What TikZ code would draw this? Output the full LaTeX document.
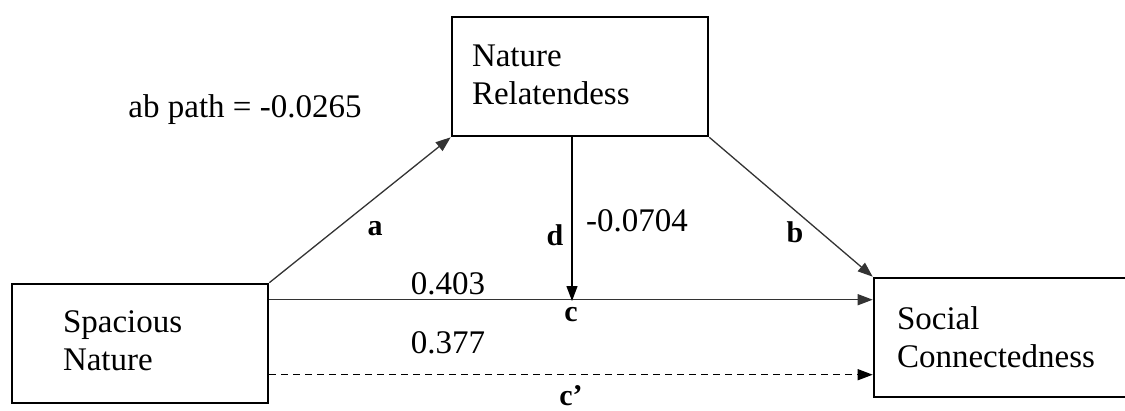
\documentclass[tikz,border=0pt]{standalone}
\usepackage{fontspec}
\setmainfont{Liberation Serif}
\usetikzlibrary{arrows.meta}
\begin{document}
\begin{tikzpicture}[x=1pt,y=-1pt,
  varbox/.style={draw, line width=2.6pt, minimum width=256pt, minimum height=119pt,
    align=left, inner sep=0pt, font=\fontsize{33}{38}\selectfont},
  conn/.style={line width=1.3pt, draw=black!80, -{Triangle[length=15pt,width=11pt]}},
  lbl/.style={font=\fontsize{33}{38}\selectfont, inner sep=0pt},
  blbl/.style={font=\fontsize{30}{32}\selectfont\bfseries, inner sep=0pt}]
\useasboundingbox (0,0) rectangle (1125,410);
\node[varbox] (SN) at (140,343.5) {\raisebox{5pt}{\makebox[154pt][l]{Spacious}}\\\raisebox{5pt}{Nature}};
\node[varbox] (NR) at (580,76.5) {\raisebox{4pt}{\makebox[216pt][l]{Nature}}\\\raisebox{4pt}{Relatendess}};
\node[varbox] (SC) at (1002,337.5) {\makebox[210pt][l]{Social}\\Connectedness};
\coordinate (cmid) at (572,301);
\draw[conn] (SN.north east) -- (NR.south west);
\draw[conn] (NR.south east) -- (SC.north west);
\draw[conn] ([yshift=-17pt]SN.north east) -- ([yshift=-23pt]SC.north west);
\draw[conn, draw=black, dash pattern=on 7pt off 5pt] ([yshift=-92pt]SN.north east) -- ([yshift=-98pt]SC.north west);
\draw[conn, draw=black] ([xshift=-8pt]NR.south) -- (cmid);
\node[lbl, anchor=base] (ab) at (245,117) {ab path = -0.0265};
\node[blbl] (la) at (375,229) {a};
\node[blbl] (lb) at (795,232) {b};
\node[blbl] (ld) at (555,235) {d};
\node[lbl, anchor=base] (vd) at (637,231) {-0.0704};
\node[lbl, anchor=base] (v403) at (448,294) {0.403};
\node[blbl] (lc) at (571,315) {c};
\node[lbl, anchor=base] (v377) at (448,353) {0.377};
\node[blbl, anchor=base] (lcp) at (571,405) {c’};
\end{tikzpicture}
\end{document}
